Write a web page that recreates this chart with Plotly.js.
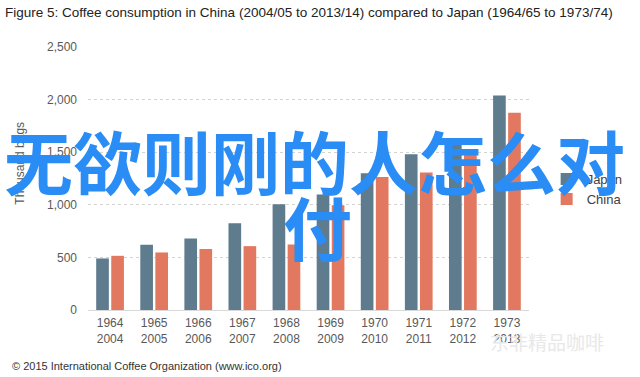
<!DOCTYPE html>
<html>
<head>
<meta charset="utf-8">
<script src="https://cdn.plot.ly/plotly-3.0.1.min.js"></script>
<style>html,body{margin:0;padding:0;background:#fff;}#chart{width:640px;height:377px;}</style>
</head>
<body>
<div id="chart"></div>
<script>
// Data
const categories = ["1964<br>2004","1965<br>2005","1966<br>2006","1967<br>2007","1968<br>2008","1969<br>2009","1970<br>2010","1971<br>2011","1972<br>2012","1973<br>2013"];
const japan = [490, 620, 680, 825, 1005, 1098, 1300, 1480, 1600, 2040];
const china = [515, 547, 580, 607, 623, 996, 1265, 1307, 1480, 1876];
const seriesNames = ["Japan", "China"];
const titleText = "Figure 5: Coffee consumption in China (2004/05 to 2013/14) compared to Japan (1964/65 to 1973/74)";
const yTitle = "Thousand bags";
const sourceText = "© 2015 International Coffee Organization (www.ico.org)";
const overlayLine1 = "无欲则刚的人怎么对";
const overlayLine2 = "付";
const watermark = "东非精品咖啡";

const traces = [
  {type: "bar", name: seriesNames[0], x: categories, y: japan, marker: {color: "#5f7b8e"}, hoverinfo: "y"},
  {type: "bar", name: seriesNames[1], x: categories, y: china, marker: {color: "#e2785f"}, hoverinfo: "y"}
];

const layout = {
  width: 640, height: 377,
  margin: {l: 88, r: 97, t: 47, b: 67},
  paper_bgcolor: "#ffffff", plot_bgcolor: "#ffffff",
  font: {family: "Liberation Sans, Arial, sans-serif", color: "#595959", size: 12},
  title: {
    text: titleText,
    font: {family: "Liberation Sans Narrow, Arial Narrow, sans-serif", size: 13.5, color: "#222222"},
    x: 5 / 640, xanchor: "left", xref: "container",
    y: 1 - 12/377, yref: "container", yanchor: "middle"
  },
  barmode: "group",
  bargap: 0.317,
  bargroupgap: 0.16,
  xaxis: {
    type: "category",
    showgrid: false, zeroline: false, showline: false,
    ticks: "", tickfont: {size: 12, color: "#595959"},
    ticklabelstandoff: 4
  },
  yaxis: {
    range: [0, 2500], dtick: 500, tickformat: ",",
    showgrid: true, gridcolor: "#d3d3d3", griddash: "dot", gridwidth: 1,
    zeroline: true, zerolinecolor: "#d9d9d9", zerolinewidth: 1,
    showline: false, ticks: "",
    tickfont: {size: 12, color: "#595959"},
    ticklabelstandoff: 10
  },
  legend: {
    x: 1.04, xanchor: "left", y: 0.555, yanchor: "top",
    font: {size: 13, color: "#404040"},
    bgcolor: "rgba(0,0,0,0)",
    itemclick: false
  },
  annotations: [
    {text: yTitle, textangle: -90, xref: "paper", yref: "paper",
     x: -0.155, y: (377 - 163 - 67) / (377 - 47 - 67), xanchor: "center", yanchor: "middle",
     showarrow: false, font: {size: 12, color: "#595959"}},
    {text: sourceText, xref: "paper", yref: "paper", x: (8 - 88) / 455, y: (377 - 366 - 67) / (377 - 47 - 67),
     xanchor: "left", yanchor: "middle", showarrow: false,
     font: {family: "Liberation Sans Narrow, Arial Narrow, sans-serif", size: 11, color: "#333333"}},
    {text: watermark, xref: "paper", yref: "paper", x: (562 - 88) / 455, y: (377 - 341 - 67) / (377 - 47 - 67),
     xanchor: "center", yanchor: "middle", showarrow: false,
     font: {family: "Noto Sans CJK SC, sans-serif", size: 19, color: "#e8e8e8"}},
    {text: overlayLine1, xref: "paper", yref: "paper", x: (322 - 88) / 455, y: (377 - 160 - 67) / (377 - 47 - 67),
     xanchor: "center", yanchor: "middle", showarrow: false,
     font: {family: "Noto Sans CJK SC, sans-serif", size: 69, color: "#2a8cf5", weight: 700}},
    {text: overlayLine2, xref: "paper", yref: "paper", x: (325 - 88) / 455, y: (377 - 226 - 67) / (377 - 47 - 67),
     xanchor: "center", yanchor: "middle", showarrow: false,
     font: {family: "Noto Sans CJK SC, sans-serif", size: 69, color: "#2a8cf5", weight: 700}}
  ]
};

Plotly.newPlot("chart", traces, layout, {displayModeBar: false, staticPlot: true});
</script>
</body>
</html>
